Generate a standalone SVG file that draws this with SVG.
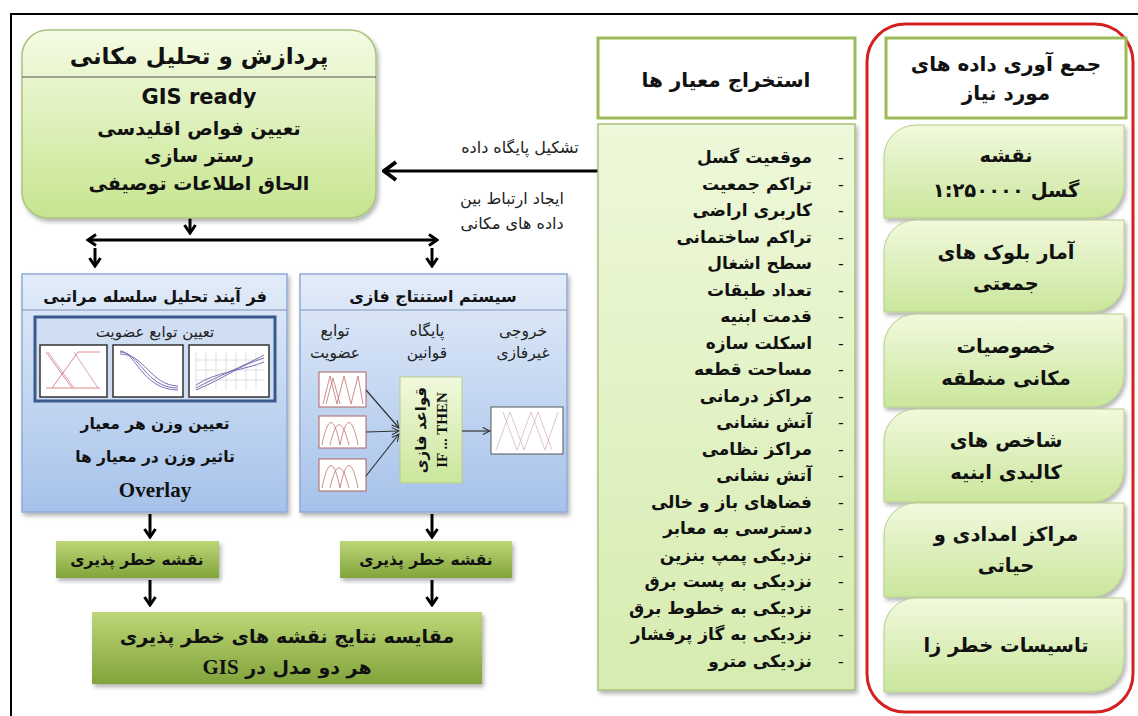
<svg xmlns="http://www.w3.org/2000/svg" width="1138" height="716" viewBox="0 0 1138 716">
<style>
.t{font-family:"DejaVu Sans",sans-serif;font-weight:bold;fill:#111;direction:rtl;text-anchor:middle}
.n{font-family:"DejaVu Sans",sans-serif;font-weight:normal;fill:#222;direction:rtl;text-anchor:middle}
.li{font-family:"DejaVu Sans",sans-serif;font-weight:bold;fill:#111;text-anchor:end;font-size:17px}
.dash{font-family:"DejaVu Sans",sans-serif;font-size:16px;fill:#111;text-anchor:middle}
.ser{font-family:"Liberation Serif",serif;font-weight:bold}
.arr{stroke:#000;stroke-width:3;fill:none}
.thin{stroke:#333;stroke-width:1.2;fill:none}
.chart{fill:#fff;stroke:#333;stroke-width:1.5}
.fchart{fill:#fff;stroke:#b06060;stroke-width:1}
</style>
<defs>
<linearGradient id="gTop" x1="0" y1="0" x2="0" y2="1"><stop offset="0" stop-color="#f5fbe4"/><stop offset="1" stop-color="#c6e58f"/></linearGradient>
<linearGradient id="gList" x1="0" y1="0" x2="0" y2="1"><stop offset="0" stop-color="#eef8da"/><stop offset="1" stop-color="#d6ecb0"/></linearGradient>
<linearGradient id="gLeaf" x1="0" y1="0" x2="0" y2="1"><stop offset="0" stop-color="#f1f9dd"/><stop offset="1" stop-color="#cae69c"/></linearGradient>
<linearGradient id="gBlue" x1="0" y1="0" x2="0" y2="1"><stop offset="0" stop-color="#e3ecf9"/><stop offset="1" stop-color="#a6c2ea"/></linearGradient>
<linearGradient id="gOlive" x1="0" y1="0" x2="0" y2="1"><stop offset="0" stop-color="#bcd677"/><stop offset="1" stop-color="#82a43c"/></linearGradient>
<filter id="sh" x="-10%" y="-10%" width="120%" height="125%"><feDropShadow dx="2" dy="3" stdDeviation="2" flood-color="#000" flood-opacity="0.3"/></filter>
<marker id="ah" viewBox="0 0 12 14" refX="10" refY="7" markerWidth="12" markerHeight="14" markerUnits="userSpaceOnUse" orient="auto-start-reverse"><path d="M2,1.5 L10,7 L2,12.5" fill="none" stroke="#000" stroke-width="3"/></marker>
<marker id="ahL" viewBox="0 0 16 22" refX="14" refY="11" markerWidth="16" markerHeight="22" markerUnits="userSpaceOnUse" orient="auto"><path d="M2,2 L14,11 L2,20" fill="none" stroke="#000" stroke-width="4"/></marker>
<marker id="as" viewBox="0 0 10 10" refX="9" refY="5" markerWidth="9" markerHeight="9" markerUnits="userSpaceOnUse" orient="auto"><path d="M1,1 L9,5 L1,9" fill="none" stroke="#333" stroke-width="1.2"/></marker>
</defs>
<rect width="1138" height="716" fill="#fff"/>
<path d="M11,716 V14 H1138" fill="none" stroke="#000" stroke-width="2"/>

<g id="connectors">
<line class="arr" x1="598" y1="171" x2="384" y2="171" marker-end="url(#ahL)" stroke-width="3.5"/>
<line class="arr" x1="190" y1="218" x2="190" y2="233" marker-end="url(#ah)"/>
<line class="arr" x1="88" y1="240" x2="437" y2="240" marker-start="url(#ah)" marker-end="url(#ah)"/>
<line class="arr" x1="95" y1="248" x2="95" y2="266" marker-end="url(#ah)"/>
<line class="arr" x1="432" y1="248" x2="432" y2="266" marker-end="url(#ah)"/>
<line class="arr" x1="150" y1="514" x2="150" y2="537" marker-end="url(#ah)"/>
<line class="arr" x1="432" y1="514" x2="432" y2="537" marker-end="url(#ah)"/>
<line class="arr" x1="150" y1="580" x2="150" y2="605" marker-end="url(#ah)"/>
<line class="arr" x1="432" y1="580" x2="432" y2="605" marker-end="url(#ah)"/>
<text class="n" x="520" y="153" font-size="16">تشکیل پایگاه داده</text>
<text class="n" x="512" y="204" font-size="16">ایجاد ارتباط بین</text>
<text class="n" x="512" y="229" font-size="16">داده های مکانی</text>
</g>

<g id="spatial">
<rect x="22" y="30" width="354" height="188" rx="26" fill="url(#gTop)" stroke="#a9c47f" stroke-width="1.5" filter="url(#sh)"/>
<line x1="22" y1="77" x2="376" y2="77" stroke="#555" stroke-width="1.2"/>
<text class="t" x="199" y="64" font-size="23">پردازش و تحلیل مکانی</text>
<text class="t" x="199" y="104" font-size="21">GIS ready</text>
<text class="t" x="199" y="135" font-size="19">تعیین فواص اقلیدسی</text>
<text class="t" x="199" y="162" font-size="19">رستر سازی</text>
<text class="t" x="199" y="190" font-size="19">الحاق اطلاعات توصیفی</text>
</g>

<g id="ahp">
<rect x="22" y="274" width="265" height="238" fill="url(#gBlue)" stroke="#8faad8" stroke-width="1.5" filter="url(#sh)"/>
<line x1="22" y1="310" x2="287" y2="310" stroke="#7f95b8" stroke-width="1"/>
<text class="t" x="155" y="302" font-size="16">فر آیند تحلیل سلسله مراتبی</text>
<rect x="35" y="317" width="240" height="84" fill="#d0def3" stroke="#3a5a8c" stroke-width="3"/>
<text class="n" x="155" y="337" font-size="15" font-weight="bold">تعیین توابع عضویت</text>
<rect class="chart" x="40" y="345" width="67" height="52"/>
<path d="M46,352 L72,388 L100,388 M46,388 L72,388 M52,388 L78,352 L100,352" fill="none" stroke="#e08a8a" stroke-width="1"/>
<path d="M48,352 L74,388 M74,352 L98,388" fill="none" stroke="#c08fb0" stroke-width="0.8"/>
<rect class="chart" x="113" y="345" width="70" height="52"/>
<path d="M120,352 C140,352 145,388 178,388 M120,354 C145,354 150,385 178,386 M120,351 C135,351 142,390 178,390" fill="none" stroke="#7a6fb3" stroke-width="1"/>
<rect class="chart" x="189" y="345" width="80" height="52"/>
<path d="M196,352 V390 M206,352 V390 M216,352 V390 M226,352 V390 M236,352 V390 M246,352 V390 M256,352 V390 M196,360 H264 M196,370 H264 M196,380 H264" stroke="#ccc" stroke-width="0.6" fill="none"/>
<path d="M196,388 C220,375 240,368 264,355 M196,385 C215,372 245,370 264,362 M196,390 C225,378 240,365 264,358" fill="none" stroke="#7a6fb3" stroke-width="1"/>
<text class="t" x="155" y="429" font-size="15.5">تعیین وزن هر معیار</text>
<text class="t" x="155" y="462" font-size="15.5">تاثیر وزن در معیار ها</text>
<text class="ser" x="155" y="497" font-size="21" text-anchor="middle" fill="#111">Overlay</text>
</g>

<g id="fuzzy">
<rect x="300" y="274" width="267" height="238" fill="url(#gBlue)" stroke="#8faad8" stroke-width="1.5" filter="url(#sh)"/>
<line x1="300" y1="310" x2="567" y2="310" stroke="#7f95b8" stroke-width="1"/>
<text class="t" x="433" y="302" font-size="16">سیستم استنتاج فازی</text>
<text class="n" x="335" y="336" font-size="15.5">توابع</text>
<text class="n" x="335" y="358" font-size="15.5">عضویت</text>
<text class="n" x="427" y="336" font-size="15.5">پایگاه</text>
<text class="n" x="427" y="358" font-size="15.5">قوانین</text>
<text class="n" x="523" y="336" font-size="15.5">خروجی</text>
<text class="n" x="523" y="358" font-size="15.5">غیرفازی</text>
<rect class="fchart" x="319" y="372" width="47" height="35"/>
<path d="M323,404 L330,376 L337,404 L344,376 L351,404 L358,376 L363,404 M326,404 L333,378 L340,404" fill="none" stroke="#c07070" stroke-width="0.8"/>
<rect class="fchart" x="319" y="416" width="47" height="32"/>
<path d="M322,445 C328,415 334,415 340,445 C346,415 352,415 358,445 M330,445 C336,418 342,418 349,445" fill="none" stroke="#c07070" stroke-width="0.8"/>
<rect class="fchart" x="319" y="459" width="47" height="32"/>
<path d="M322,488 C328,458 334,458 340,488 C346,458 352,458 358,488 M330,488 C336,461 342,461 349,488" fill="none" stroke="#c07070" stroke-width="0.8"/>
<line class="thin" x1="366" y1="390" x2="399" y2="428" marker-end="url(#as)"/>
<line class="thin" x1="366" y1="432" x2="399" y2="431" marker-end="url(#as)"/>
<line class="thin" x1="366" y1="476" x2="399" y2="434" marker-end="url(#as)"/>
<rect x="400" y="377" width="62" height="106" fill="url(#gLeaf)" stroke="#b7cc8c" stroke-width="1"/>
<text class="t" transform="translate(426,430) rotate(-90)" x="0" y="0" font-size="15">قواعد فازی</text>
<text class="ser" transform="translate(447,430) rotate(-90)" x="0" y="0" font-size="15" font-weight="normal" text-anchor="middle" fill="#111">IF ... THEN</text>
<line class="thin" x1="462" y1="431" x2="490" y2="431" marker-end="url(#as)"/>
<rect x="491" y="407" width="72" height="47" fill="#fff" stroke="#555" stroke-width="1"/>
<path d="M496,450 L510,412 L524,450 L538,412 L552,450 M503,412 L517,450 L531,412 L545,450 L558,412" fill="none" stroke="#d0b0b0" stroke-width="0.7"/>
</g>

<g id="map1">
<rect x="56" y="541" width="163" height="37" fill="url(#gOlive)" filter="url(#sh)"/>
<text class="t" x="137" y="565" font-size="15.5">نقشه خطر پذیری</text>
</g>
<g id="map2">
<rect x="340" y="541" width="172" height="37" fill="url(#gOlive)" filter="url(#sh)"/>
<text class="t" x="426" y="565" font-size="15.5">نقشه خطر پذیری</text>
</g>
<g id="compare">
<rect x="92" y="612" width="390" height="72" fill="url(#gOlive)" filter="url(#sh)"/>
<text class="t" x="287" y="643" font-size="19">مقایسه نتایج نقشه های خطر پذیری</text>
<text class="t" x="287" y="674" font-size="19">هر دو مدل در <tspan class="ser" font-size="21">GIS</tspan></text>
</g>

<g id="criteria-head">
<rect x="598" y="38" width="257" height="80" fill="#fff" stroke="#9bbb59" stroke-width="3"/>
<text class="t" x="726" y="87" font-size="20">استخراج معیار ها</text>
</g>
<g id="criteria-list">
<rect x="598" y="124" width="257" height="566" fill="url(#gList)" stroke="#a9c27f" stroke-width="1.5" filter="url(#sh)"/>
<g>
<text class="li" x="812" y="163">موقعیت گسل</text>
<text class="li" x="812" y="189.5">تراکم جمعیت</text>
<text class="li" x="812" y="216">کاربری اراضی</text>
<text class="li" x="812" y="242.5">تراکم ساختمانی</text>
<text class="li" x="812" y="269">سطح اشغال</text>
<text class="li" x="812" y="295.5">تعداد طبقات</text>
<text class="li" x="812" y="322">قدمت ابنیه</text>
<text class="li" x="812" y="348.5">اسکلت سازه</text>
<text class="li" x="812" y="375">مساحت قطعه</text>
<text class="li" x="812" y="401.5">مراکز درمانی</text>
<text class="li" x="812" y="428">آتش نشانی</text>
<text class="li" x="812" y="454.5">مراکز نظامی</text>
<text class="li" x="812" y="481">آتش نشانی</text>
<text class="li" x="812" y="507.5">فضاهای باز و خالی</text>
<text class="li" x="812" y="534">دسترسی به معابر</text>
<text class="li" x="812" y="560.5">نزدیکی پمپ بنزین</text>
<text class="li" x="812" y="587">نزدیکی به پست برق</text>
<text class="li" x="812" y="613.5">نزدیکی به خطوط برق</text>
<text class="li" x="812" y="640">نزدیکی به گاز پرفشار</text>
<text class="li" x="812" y="666.5">نزدیکی مترو</text>
</g>
<g>
<text class="dash" x="841" y="163">-</text><text class="dash" x="841" y="189.5">-</text><text class="dash" x="841" y="216">-</text><text class="dash" x="841" y="242.5">-</text><text class="dash" x="841" y="269">-</text><text class="dash" x="841" y="295.5">-</text><text class="dash" x="841" y="322">-</text><text class="dash" x="841" y="348.5">-</text><text class="dash" x="841" y="375">-</text><text class="dash" x="841" y="401.5">-</text><text class="dash" x="841" y="428">-</text><text class="dash" x="841" y="454.5">-</text><text class="dash" x="841" y="481">-</text><text class="dash" x="841" y="507.5">-</text><text class="dash" x="841" y="534">-</text><text class="dash" x="841" y="560.5">-</text><text class="dash" x="841" y="587">-</text><text class="dash" x="841" y="613.5">-</text><text class="dash" x="841" y="640">-</text><text class="dash" x="841" y="666.5">-</text>
</g>
</g>

<g id="data-frame">
<rect x="867" y="24" width="266" height="688" rx="38" fill="none" stroke="#d42020" stroke-width="3"/>
</g>
<g id="data-head">
<rect x="886" y="38" width="240" height="80" fill="#fff" stroke="#9bbb59" stroke-width="3"/>
<text class="t" x="1006" y="71" font-size="20">جمع آوری داده های</text>
<text class="t" x="1006" y="100" font-size="20">مورد نیاز</text>
</g>
<g id="leaf1">
<path d="M916,125 H1124 V186 A32 32 0 0 1 1092,218 H884 V157 A32 32 0 0 1 916,125 Z" fill="url(#gLeaf)" stroke="#b7cc8c" stroke-width="1" filter="url(#sh)"/>
<text class="t" x="1006" y="162" font-size="19.5">نقشه</text>
<text class="t" x="1006" y="197" font-size="19.5">گسل ۱:۲۵۰۰۰۰</text>
</g>
<g id="leaf2">
<path d="M916,220 H1124 V280 A32 32 0 0 1 1092,312 H884 V252 A32 32 0 0 1 916,220 Z" fill="url(#gLeaf)" stroke="#b7cc8c" stroke-width="1" filter="url(#sh)"/>
<text class="t" x="1006" y="259" font-size="19.5">آمار بلوک های</text>
<text class="t" x="1006" y="290" font-size="19.5">جمعتی</text>
</g>
<g id="leaf3">
<path d="M916,314 H1124 V375 A32 32 0 0 1 1092,407 H884 V346 A32 32 0 0 1 916,314 Z" fill="url(#gLeaf)" stroke="#b7cc8c" stroke-width="1" filter="url(#sh)"/>
<text class="t" x="1006" y="353" font-size="19.5">خصوصیات</text>
<text class="t" x="1006" y="385" font-size="19.5">مکانی منطقه</text>
</g>
<g id="leaf4">
<path d="M916,409 H1124 V470 A32 32 0 0 1 1092,502 H884 V441 A32 32 0 0 1 916,409 Z" fill="url(#gLeaf)" stroke="#b7cc8c" stroke-width="1" filter="url(#sh)"/>
<text class="t" x="1006" y="447" font-size="19.5">شاخص های</text>
<text class="t" x="1006" y="479" font-size="19.5">کالبدی ابنیه</text>
</g>
<g id="leaf5">
<path d="M916,503 H1124 V565 A32 32 0 0 1 1092,597 H884 V535 A32 32 0 0 1 916,503 Z" fill="url(#gLeaf)" stroke="#b7cc8c" stroke-width="1" filter="url(#sh)"/>
<text class="t" x="1006" y="541" font-size="19.5">مراکز امدادی و</text>
<text class="t" x="1006" y="572" font-size="19.5">حیاتی</text>
</g>
<g id="leaf6">
<path d="M916,598 H1124 V660 A32 32 0 0 1 1092,692 H884 V630 A32 32 0 0 1 916,598 Z" fill="url(#gLeaf)" stroke="#b7cc8c" stroke-width="1" filter="url(#sh)"/>
<text class="t" x="1006" y="652" font-size="19.5">تاسیسات خطر زا</text>
</g>
</svg>
